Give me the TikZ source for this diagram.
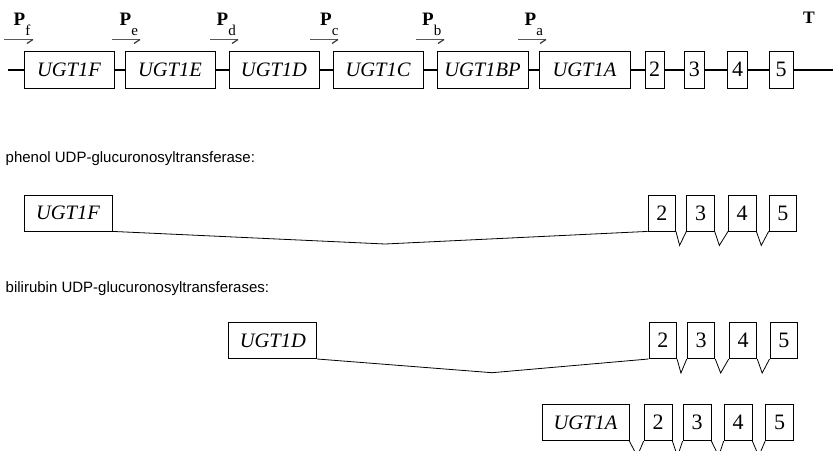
\documentclass[tikz,border=0pt]{standalone}
\usepackage{fontspec}
\setmainfont{Liberation Serif}
\setsansfont{Liberation Sans}
\usetikzlibrary{calc}
\begin{document}
\begin{tikzpicture}[x=1pt,y=-1pt,
  gene/.style={draw, line width=0.8pt, fill=white, inner sep=0pt, font=\fontsize{20.5}{20.5}\selectfont\itshape},
  exon/.style={draw, line width=0.8pt, fill=white, inner sep=0pt, font=\fontsize{22}{22}\selectfont},
  chrom/.style={line width=2pt},
  splice/.style={line width=0.8pt},
  prom/.style={line width=1.4pt, draw=black!65},
  plab/.style={anchor=base west, inner sep=0pt, font=\fontsize{19}{19}\selectfont\bfseries},
  capt/.style={anchor=base west, inner sep=0pt, font=\sffamily\fontsize{15}{15}\selectfont}]
\useasboundingbox (0,0) rectangle (833,450);
\clip (0,0) rectangle (833,450);

% ---------- top row: gene cluster ----------
\node[gene, minimum width=90pt, minimum height=37pt] (tF) at (69,69.5) {UGT1F};
\node[gene, minimum width=90pt, minimum height=37pt] (tE) at (170,69.5) {UGT1E};
\node[gene, minimum width=90pt, minimum height=37pt] (tD) at (274,69.5) {UGT1D};
\node[gene, minimum width=90pt, minimum height=37pt] (tC) at (378,69.5) {UGT1C};
\node[gene, minimum width=91pt, minimum height=37pt] (tB) at (482.5,69.5) {UGT1BP};
\node[gene, minimum width=91pt, minimum height=37pt] (tA) at (584.5,69.5) {UGT1A};
\node[exon, minimum width=19pt, minimum height=37pt] (t2) at (654.5,69.5) {2};
\node[exon, minimum width=20pt, minimum height=37pt] (t3) at (694.3,69.5) {3};
\node[exon, minimum width=20pt, minimum height=37pt] (t4) at (737.7,69.5) {4};
\node[exon, minimum width=24pt, minimum height=37pt] (t5) at (781,69.5) {5};
\coordinate (tL) at (8,69.5);
\coordinate (tR) at (833,69.5);
\draw[chrom] (tL) -- (tF.west) (tF.east) -- (tE.west) (tE.east) -- (tD.west)
  (tD.east) -- (tC.west) (tC.east) -- (tB.west) (tB.east) -- (tA.west)
  (tA.east) -- (t2.west) (t2.east) -- (t3.west) (t3.east) -- (t4.west)
  (t4.east) -- (t5.west) (t5.east) -- (tR);

% promoters
\coordinate (pfs) at (4,39.5);   \coordinate (pfe) at (33,39.5);
\coordinate (pes) at (112,39.5); \coordinate (pee) at (140,39.5);
\coordinate (pds) at (210,39.5); \coordinate (pde) at (238,39.5);
\coordinate (pcs) at (310,39.5); \coordinate (pce) at (338,39.5);
\coordinate (pbs) at (416,39.5); \coordinate (pbe) at (444,39.5);
\coordinate (pas) at (518,39.5); \coordinate (pae) at (546,39.5);
\foreach \p in {f,e,d,c,b,a}{
  \draw[prom] (p\p s) -- (p\p e);
  \draw[line width=1.2pt, black!80] (p\p e) -- ++(-6,4);
}
\newcommand{\psub}[1]{\raisebox{-10pt}{\mdseries\fontsize{15}{15}\selectfont #1}}
\node[plab] (Pf) at (13.5,25) {P\psub{f}};
\node[plab] (Pe) at (119.5,25) {P\psub{e}};
\node[plab] (Pd) at (216.5,25) {P\psub{d}};
\node[plab] (Pc) at (320,25) {P\psub{c}};
\node[plab] (Pb) at (422,25) {P\psub{b}};
\node[plab] (Pa) at (524.5,25) {P\psub{a}};
\node[plab, font=\fontsize{17.5}{17.5}\selectfont\bfseries] (T) at (803,23.5) {T};

% ---------- phenol ----------
\node[capt] (cap1) at (5.5,162.5) {phenol UDP-glucuronosyltransferase:};
\node[gene, minimum width=88pt, minimum height=36pt] (aF) at (68,213) {UGT1F};
\node[exon, minimum width=27.5pt, minimum height=36pt] (a2) at (661.8,213) {2};
\node[exon, minimum width=27.5pt, minimum height=36pt] (a3) at (700.5,213) {3};
\node[exon, minimum width=27.5pt, minimum height=36pt] (a4) at (742.2,213) {4};
\node[exon, minimum width=27.5pt, minimum height=36pt] (a5) at (782.8,213) {5};
\coordinate (aJ) at (385,244);
\draw[splice] (aF.south east) -- (aJ) -- (a2.south west);
\draw[splice] (a2.south east) -- ($(a2.south east)!0.35!(a3.south west)+(0,14)$) -- (a3.south west);
\draw[splice] (a3.south east) -- ($(a3.south east)!0.35!(a4.south west)+(0,14)$) -- (a4.south west);
\draw[splice] (a4.south east) -- ($(a4.south east)!0.4!(a5.south west)+(0,14)$) -- (a5.south west);

% ---------- bilirubin ----------
\node[capt] (cap2) at (5.5,292.5) {bilirubin UDP-glucuronosyltransferases:};
\node[gene, minimum width=88pt, minimum height=36pt] (bD) at (272.8,340.6) {UGT1D};
\node[exon, minimum width=27.7pt, minimum height=36pt] (b2) at (662.8,340.6) {2};
\node[exon, minimum width=27.7pt, minimum height=36pt] (b3) at (701,340.6) {3};
\node[exon, minimum width=27.7pt, minimum height=36pt] (b4) at (743,340.6) {4};
\node[exon, minimum width=27.7pt, minimum height=36pt] (b5) at (783.8,340.6) {5};
\coordinate (bJ) at (492,372.7);
\draw[splice] (bD.south east) -- (bJ) -- (b2.south west);
\draw[splice] (b2.south east) -- ($(b2.south east)!0.4!(b3.south west)+(0,14)$) -- (b3.south west);
\draw[splice] (b3.south east) -- ($(b3.south east)!0.4!(b4.south west)+(0,14)$) -- (b4.south west);
\draw[splice] (b4.south east) -- ($(b4.south east)!0.4!(b5.south west)+(0,14)$) -- (b5.south west);

\node[gene, minimum width=87pt, minimum height=36.7pt] (cA) at (585.5,422.4) {UGT1A};
\node[exon, minimum width=28pt, minimum height=36.7pt] (c2) at (658,422.4) {2};
\node[exon, minimum width=28pt, minimum height=36.7pt] (c3) at (697,422.4) {3};
\node[exon, minimum width=28pt, minimum height=36.7pt] (c4) at (738,422.4) {4};
\node[exon, minimum width=28pt, minimum height=36.7pt] (c5) at (779.5,422.4) {5};
\draw[splice] (cA.south east) -- ($(cA.south east)!0.55!(c2.south west)+(0,15)$) -- (c2.south west);
\draw[splice] (c2.south east) -- ($(c2.south east)!0.5!(c3.south west)+(0,15)$) -- (c3.south west);
\draw[splice] (c3.south east) -- ($(c3.south east)!0.6!(c4.south west)+(0,15)$) -- (c4.south west);
\draw[splice] (c4.south east) -- ($(c4.south east)!0.5!(c5.south west)+(0,15)$) -- (c5.south west);
\end{tikzpicture}
\end{document}
